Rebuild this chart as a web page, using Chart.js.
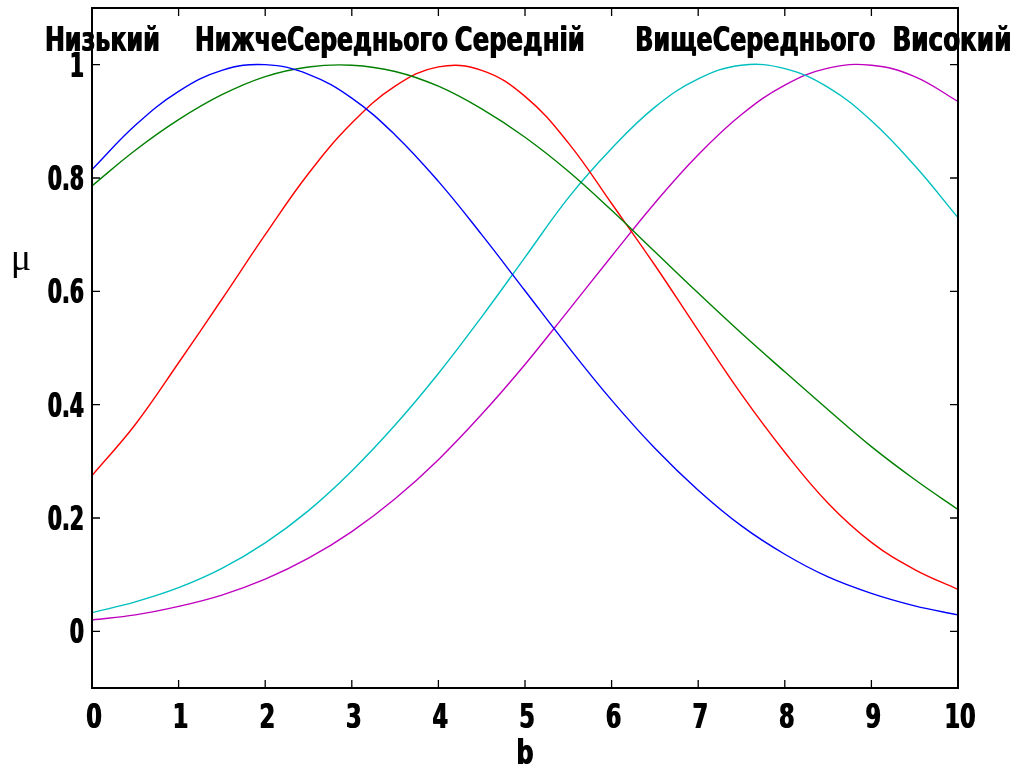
<!DOCTYPE html>
<html>
<head>
<meta charset="utf-8">
<script src="https://cdn.jsdelivr.net/npm/chart.js@4.4.1/dist/chart.umd.min.js"></script>
<style>
  body { margin: 0; background: #fff; }
  #wrap { width: 1022px; height: 769px; }
</style>
</head>
<body>
<div id="wrap"><canvas id="chartMembership" width="1022" height="769"></canvas></div>
<script>
/* values every 0.5 on b */
const bValues = [0, 0.5, 1, 1.5, 2, 2.5, 3, 3.5, 4, 4.5, 5, 5.5, 6, 6.5, 7, 7.5, 8, 8.5, 9, 9.5, 10];

const lowValues = [0.815, 0.893, 0.953, 0.990, 1.000, 0.983, 0.941, 0.876, 0.794, 0.700, 0.601,
  0.502, 0.408, 0.323, 0.249, 0.186, 0.136, 0.096, 0.067, 0.045, 0.029];
const belowMidValues = [0.786, 0.849, 0.903, 0.947, 0.979, 0.996, 0.999, 0.988, 0.962, 0.922, 0.872,
  0.812, 0.743, 0.670, 0.597, 0.526, 0.458, 0.391, 0.326, 0.268, 0.215];
const midValues = [0.275, 0.365, 0.474, 0.586, 0.700, 0.808, 0.897, 0.962, 0.996, 0.990, 0.944,
  0.862, 0.755, 0.646, 0.531, 0.418, 0.316, 0.226, 0.157, 0.109, 0.074];
const aboveMidValues = [0.033, 0.052, 0.077, 0.111, 0.156, 0.213, 0.283, 0.364, 0.455, 0.555, 0.660,
  0.765, 0.852, 0.925, 0.975, 0.999, 0.993, 0.960, 0.901, 0.822, 0.730];
const highValues = [0.020, 0.029, 0.044, 0.064, 0.092, 0.129, 0.176, 0.234, 0.303, 0.383, 0.471,
  0.566, 0.662, 0.756, 0.841, 0.912, 0.964, 0.994, 0.999, 0.979, 0.935];

const termNames = ['Низький', 'НижчеСереднього', 'Середній', 'ВищеСереднього', 'Високий'];
const termLabelX = [0.12, 2.65, 4.94, 7.66, 9.93];
const termLabelY = 1.025;
const termLabelWidth = [115, 253, 130, 240, 119];

const xTicks = [0, 1, 2, 3, 4, 5, 6, 7, 8, 9, 10];
const yTicks = [0, 0.2, 0.4, 0.6, 0.8, 1];

const boldFont = 'bold 33px "DejaVu Sans", "Liberation Sans", sans-serif';

function toPoints(values) {
  let result = [];
  for (let i = 0; i < bValues.length; i++) {
    result.push({ x: bValues[i], y: values[i] });
  }
  return result;
}

function getLine(label, values, color) {
  return {
    label: label,
    data: toPoints(values),
    borderColor: color,
    backgroundColor: color,
    borderWidth: 1.4,
    pointRadius: 0,
    tension: 0.4,
    fill: false,
  };
}

// narrow text: squeezed sideways, drawn twice for weight
function heavyText(ctx, text, x, y, sx) {
  for (let dx of [-0.5, 0.5]) {
    ctx.save();
    ctx.translate(x + dx, y);
    ctx.scale(sx, 1);
    ctx.fillText(text, 0, 0);
    ctx.restore();
  }
}

/* box, inward ticks and text */
const framePlugin = {
  id: 'frame',
  afterDraw(chart) {
    const ctx = chart.ctx;
    const a = chart.chartArea;
    const xs = chart.scales.x;
    const ys = chart.scales.y;
    ctx.save();
    ctx.strokeStyle = '#000';
    ctx.lineWidth = 2;
    ctx.strokeRect(a.left, a.top, a.right - a.left, a.bottom - a.top);
    ctx.lineWidth = 1.3;
    ctx.beginPath();
    for (let v of xTicks) {
      const px = xs.getPixelForValue(v);
      ctx.moveTo(px, a.bottom); ctx.lineTo(px, a.bottom - 8);
      ctx.moveTo(px, a.top); ctx.lineTo(px, a.top + 8);
    }
    for (let v of yTicks) {
      const py = ys.getPixelForValue(v);
      ctx.moveTo(a.left, py); ctx.lineTo(a.left + 8, py);
      ctx.moveTo(a.right, py); ctx.lineTo(a.right - 8, py);
    }
    ctx.stroke();

    ctx.fillStyle = '#000';
    ctx.textBaseline = 'alphabetic';
    ctx.font = boldFont;

    // tick labels
    ctx.textAlign = 'center';
    for (let v of xTicks) {
      heavyText(ctx, String(v), xs.getPixelForValue(v) + 2, a.bottom + 40, 0.68);
    }
    ctx.textAlign = 'right';
    for (let v of yTicks) {
      heavyText(ctx, String(v), a.left - 8, ys.getPixelForValue(v) + 12, 0.62);
    }

    // term names
    ctx.textAlign = 'center';
    const ty = ys.getPixelForValue(termLabelY);
    for (let i = 0; i < termNames.length; i++) {
      const cx = xs.getPixelForValue(termLabelX[i]);
      const w = ctx.measureText(termNames[i]).width;
      heavyText(ctx, termNames[i], cx, ty, termLabelWidth[i] / w);
    }

    // axis titles
    heavyText(ctx, 'b', xs.getPixelForValue(5), 764, 0.72);
    ctx.font = '38px "Liberation Serif", "DejaVu Serif", serif';
    ctx.fillText('\u03bc', 21, 270);
    ctx.restore();
  }
};

const ctx = document.getElementById('chartMembership').getContext('2d');
const chartMembership = new Chart(ctx, {
  type: 'line',
  data: {
    datasets: [
      getLine(termNames[0], lowValues, '#0000ff'),
      getLine(termNames[1], belowMidValues, '#008000'),
      getLine(termNames[2], midValues, '#ff0000'),
      getLine(termNames[3], aboveMidValues, '#00bfbf'),
      getLine(termNames[4], highValues, '#bf00bf'),
    ]
  },
  options: {
    responsive: false,
    animation: false,
    layout: { padding: { top: 8, right: 64, left: 0, bottom: 0 } },
    plugins: { legend: { display: false }, tooltip: { enabled: false } },
    scales: {
      x: {
        type: 'linear',
        min: 0,
        max: 10,
        afterBuildTicks: (scale) => { scale.ticks = xTicks.map(v => ({ value: v })); },
        afterFit: (scale) => { scale.height = 81; scale.paddingLeft = 0; scale.paddingRight = 0; },
        grid: { display: false, drawTicks: false },
        border: { display: false },
        ticks: { display: false },
      },
      y: {
        type: 'linear',
        min: -0.1,
        max: 1.1,
        afterBuildTicks: (scale) => { scale.ticks = yTicks.map(v => ({ value: v })); },
        afterFit: (scale) => { scale.width = 92; scale.paddingTop = 0; scale.paddingBottom = 0; },
        grid: { display: false, drawTicks: false },
        border: { display: false },
        ticks: { display: false },
      },
    },
  },
  plugins: [framePlugin],
});
</script>
</body>
</html>
